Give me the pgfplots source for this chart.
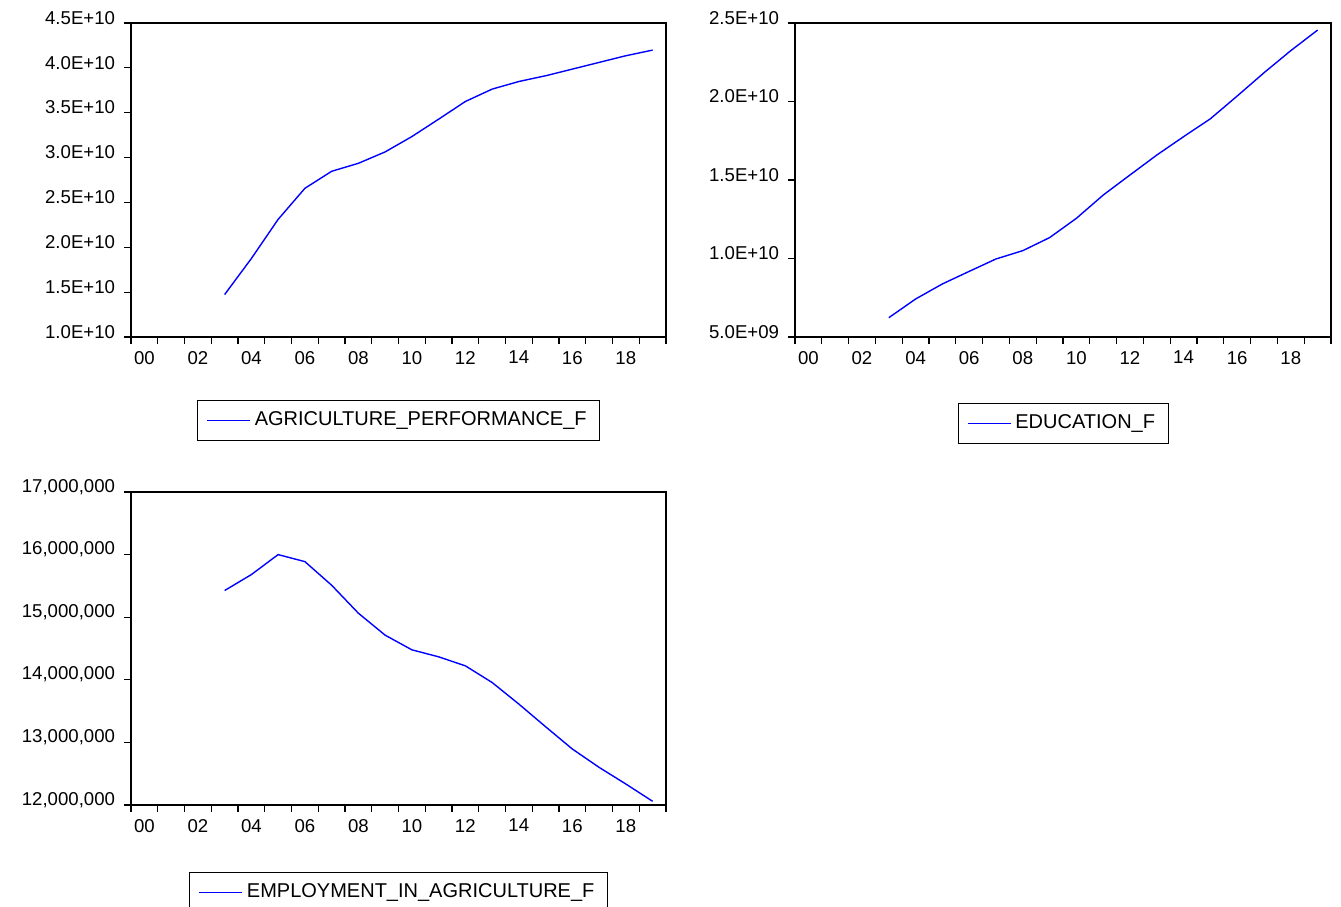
\documentclass[border=0pt]{standalone}
\usepackage{fontspec}
\setmainfont{Liberation Sans}
\usepackage{pgfplots}
\pgfplotsset{compat=1.18}
\begin{document}
\begin{tikzpicture}
\pgfplotsset{
 ev/.style={
  scale only axis, width=267.5bp, height=157bp,
  xmin=2000, xmax=2020, xtick={2000,...,2020},
  xticklabels={00,,02,,04,,06,,08,,10,,12,,14,,16,,18,,},
  x tick label as interval,
  scaled y ticks=false,
  tick align=outside, xtick pos=bottom, ytick pos=left,
  major tick length=3.5bp,
  tick style={black, line width=0.6bp},
  axis line style={line width=0.7bp},
  ticklabel style={font=\fontsize{9.3bp}{11bp}\selectfont},
  yticklabel style={xshift=-1bp, yshift=2.6bp},
  legend style={anchor=north, draw=black, line width=0.5bp,
    font=\fontsize{10bp}{12bp}\selectfont, inner xsep=4.5bp, inner ysep=3.75bp,
    legend cell align=left},
  legend image code/.code={\draw[blue, line width=0.7bp] (0bp,0bp) -- (21.5bp,0bp);},
 },
 evline/.style={blue, line width=0.7bp, mark=none},
}

\begin{axis}[ev, at={(65.5bp,285bp)}, anchor=south west,
  ymin=1e10, ymax=4.5e10,
  ytick={1e10,1.5e10,2e10,2.5e10,3e10,3.5e10,4e10,4.5e10},
  yticklabels={1.0E+10,1.5E+10,2.0E+10,2.5E+10,3.0E+10,3.5E+10,4.0E+10,4.5E+10},
  legend style={at={(0.5,-0.2)}}]
\addplot[evline] coordinates {
(2003.5,1.473e10) (2004.5,1.875e10) (2005.5,2.311e10) (2006.5,2.657e10)
(2007.5,2.847e10) (2008.5,2.936e10) (2009.5,3.063e10) (2010.5,3.234e10)
(2011.5,3.428e10) (2012.5,3.625e10) (2013.5,3.763e10) (2014.5,3.848e10)
(2015.5,3.912e10) (2016.5,3.986e10) (2017.5,4.061e10) (2018.5,4.135e10)
(2019.5,4.198e10)};
\addlegendentry{AGRICULTURE\_PERFORMANCE\_F}
\end{axis}

\begin{axis}[ev, at={(397.5bp,285bp)}, anchor=south west, width=268bp,
  ymin=5e9, ymax=2.5e10,
  ytick={5e9,1e10,1.5e10,2e10,2.5e10},
  yticklabels={5.0E+09,1.0E+10,1.5E+10,2.0E+10,2.5E+10},
  legend style={at={(0.5,-0.21)}}]
\addplot[evline] coordinates {
(2003.5,0.623e10) (2004.5,0.742e10) (2005.5,0.838e10) (2006.5,0.918e10)
(2007.5,0.997e10) (2008.5,1.050e10) (2009.5,1.133e10) (2010.5,1.256e10)
(2011.5,1.404e10) (2012.5,1.532e10) (2013.5,1.659e10) (2014.5,1.776e10)
(2015.5,1.890e10) (2016.5,2.035e10) (2017.5,2.183e10) (2018.5,2.324e10)
(2019.5,2.455e10)};
\addlegendentry{EDUCATION\_F}
\end{axis}

\begin{axis}[ev, at={(65.5bp,51bp)}, anchor=south west, height=156.5bp,
  ymin=12e6, ymax=17e6,
  ytick={12e6,13e6,14e6,15e6,16e6,17e6},
  yticklabels={{12,000,000},{13,000,000},{14,000,000},{15,000,000},{16,000,000},{17,000,000}},
  legend style={at={(0.5,-0.214)}}]
\addplot[evline] coordinates {
(2003.5,15.426e6) (2004.5,15.681e6) (2005.5,16.000e6) (2006.5,15.888e6)
(2007.5,15.511e6) (2008.5,15.064e6) (2009.5,14.713e6) (2010.5,14.479e6)
(2011.5,14.367e6) (2012.5,14.223e6) (2013.5,13.957e6) (2014.5,13.612e6)
(2015.5,13.250e6) (2016.5,12.894e6) (2017.5,12.601e6) (2018.5,12.335e6)
(2019.5,12.059e6)};
\addlegendentry{EMPLOYMENT\_IN\_AGRICULTURE\_F}
\end{axis}
\pgfresetboundingbox
\path[use as bounding box] (0,0) rectangle (670.5bp,453.5bp);
\end{tikzpicture}
\end{document}
